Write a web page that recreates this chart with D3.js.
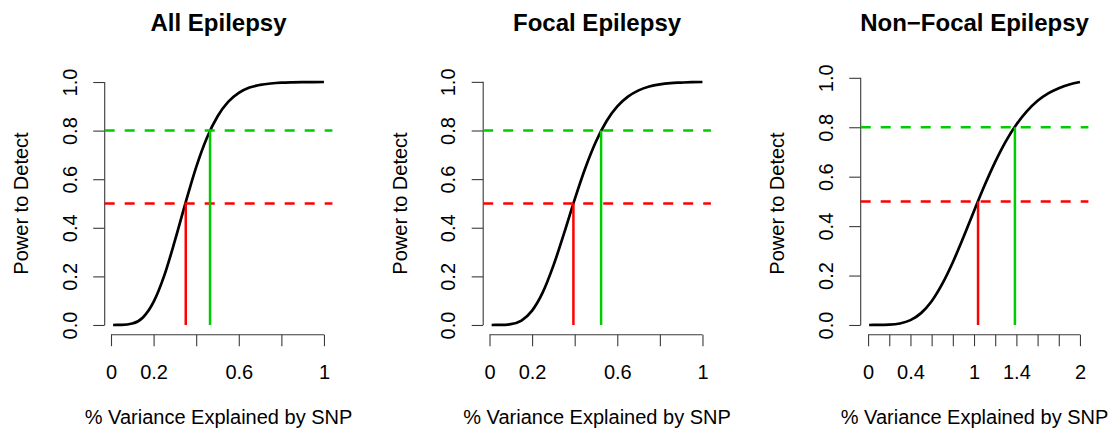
<!DOCTYPE html>
<html>
<head>
<meta charset="utf-8">
<script src="https://cdn.jsdelivr.net/npm/d3@7"></script>
<style>
  body { margin: 0; background: #fff; }
  svg { display: block; font-family: "Liberation Sans", Arial, Helvetica, sans-serif; }
</style>
</head>
<body>
<svg id="chart" width="1109" height="429"></svg>
<script>
// Power curves for detecting a SNP effect, by epilepsy subtype
const titles = ["All Epilepsy", "Focal Epilepsy", "Non\u2212Focal Epilepsy"];

// % variance explained (x) and power to detect (y)
const varianceAll = [0.01, 0.05, 0.10, 0.15, 0.20, 0.25, 0.30, 0.35, 0.40, 0.45, 0.50,
                     0.55, 0.60, 0.65, 0.70, 0.75, 0.80, 0.85, 0.90, 0.95, 1.00];
const powerAll = [0, 0.0003, 0.006, 0.031, 0.095, 0.203, 0.347, 0.503, 0.650, 0.770, 0.858,
                  0.918, 0.955, 0.977, 0.988, 0.994, 0.9975, 0.9989, 0.9995, 0.9998, 1.0];

const varianceFocal = [0.01, 0.05, 0.10, 0.15, 0.20, 0.25, 0.30, 0.35, 0.40, 0.45, 0.50,
                       0.55, 0.60, 0.65, 0.70, 0.75, 0.80, 0.85, 0.90, 0.95, 1.00];
const powerFocal = [0, 0.0002, 0.0034, 0.018, 0.059, 0.134, 0.244, 0.377, 0.517, 0.646, 0.755,
                    0.839, 0.899, 0.939, 0.965, 0.981, 0.990, 0.995, 0.997, 0.9987, 0.9994];

const varianceNonFocal = [0.01, 0.1, 0.2, 0.3, 0.4, 0.5, 0.6, 0.7, 0.8, 0.9, 1.0,
                          1.1, 1.2, 1.3, 1.4, 1.5, 1.6, 1.7, 1.8, 1.9, 2.0];
const powerNonFocal = [0, 0.0001, 0.0011, 0.0059, 0.0195, 0.048, 0.096, 0.166, 0.254, 0.355, 0.461,
                       0.565, 0.660, 0.743, 0.811, 0.865, 0.907, 0.937, 0.958, 0.973, 0.983];

// Variance explained at which power reaches 50% and 80%
const threshold50 = [0.351, 0.394, 1.038];
const threshold80 = [0.465, 0.524, 1.386];
const powerLevels = [0.5, 0.8];

// Axis ticks and their printed labels (empty = unlabeled tick)
const xTicksUnit = [0, 0.2, 0.4, 0.6, 0.8, 1];
const xLabelsUnit = ["0", "0.2", "", "0.6", "", "1"];
const xTicksTwo = [0, 0.2, 0.4, 0.6, 0.8, 1.0, 1.2, 1.4, 1.6, 1.8, 2.0];
const xLabelsTwo = ["0", "", "0.4", "", "", "1", "", "1.4", "", "", "2"];
const yTicks = [0, 0.2, 0.4, 0.6, 0.8, 1.0];
const yLabels = ["0.0", "0.2", "0.4", "0.6", "0.8", "1.0"];

const panels = [
  { title: titles[0], x: varianceAll, y: powerAll, t50: threshold50[0], t80: threshold80[0], xt: xTicksUnit, xl: xLabelsUnit },
  { title: titles[1], x: varianceFocal, y: powerFocal, t50: threshold50[1], t80: threshold80[1], xt: xTicksUnit, xl: xLabelsUnit },
  { title: titles[2], x: varianceNonFocal, y: powerNonFocal, t50: threshold50[2], t80: threshold80[2], xt: xTicksTwo, xl: xLabelsTwo }
];

const svg = d3.select("#chart");
const panelOffsets = [0, 378.5, 756];
const plot = { left: 104.7, top: 72.3, width: 227.7, height: 262.4 };
const RED = "#ff0000", GREEN = "#00cd00", AXIS = "#3a3a3a";
const tickLen = 11.5;

// pad a data extent by 4% on each side
function padded(ext) {
  const r = ext[1] - ext[0];
  return [ext[0] - 0.04 * r, ext[1] + 0.04 * r];
}

panels.forEach((p, i) => {
  const g = svg.append("g").attr("transform", `translate(${panelOffsets[i]},0)`);
  const x = d3.scaleLinear().domain(padded(d3.extent(p.x))).range([plot.left, plot.left + plot.width]);
  const y = d3.scaleLinear().domain(padded(d3.extent(p.y))).range([plot.top + plot.height, plot.top]);
  const bottom = plot.top + plot.height;

  // x axis
  const xAxis = d3.axisBottom(x).tickValues(p.xt).tickSize(tickLen).tickSizeOuter(0)
    .tickFormat((d, k) => p.xl[k]);
  const gx = g.append("g").attr("transform", `translate(0,${bottom})`).call(xAxis);
  gx.select(".domain").remove();
  gx.append("line")
    .attr("x1", x(p.xt[0])).attr("x2", x(p.xt[p.xt.length - 1]))
    .attr("stroke", AXIS).attr("stroke-width", 1.1);
  gx.selectAll(".tick line").attr("stroke", AXIS).attr("stroke-width", 1.1);
  gx.selectAll(".tick text")
    .attr("y", 44).attr("dy", null)
    .attr("font-size", 20).attr("font-family", "Liberation Sans, Arial, sans-serif")
    .attr("fill", "#000");

  // y axis
  const yAxis = d3.axisLeft(y).tickValues(yTicks).tickSize(tickLen).tickSizeOuter(0)
    .tickFormat((d, k) => yLabels[k]);
  const gy = g.append("g").attr("transform", `translate(${plot.left},0)`).call(yAxis);
  gy.select(".domain").remove();
  gy.append("line")
    .attr("y1", y(yTicks[0])).attr("y2", y(yTicks[yTicks.length - 1]))
    .attr("stroke", AXIS).attr("stroke-width", 1.1);
  gy.selectAll(".tick line").attr("stroke", AXIS).attr("stroke-width", 1.1);
  gy.selectAll(".tick text")
    .attr("x", null).attr("dy", null)
    .attr("transform", "translate(-28,0) rotate(-90)")
    .attr("text-anchor", "middle")
    .attr("font-size", 20).attr("font-family", "Liberation Sans, Arial, sans-serif")
    .attr("fill", "#000");

  // power curve
  const line = d3.line()
    .x((d, k) => x(p.x[k]))
    .y((d, k) => y(p.y[k]))
    .curve(d3.curveMonotoneX);
  g.append("path")
    .attr("d", line(p.x))
    .attr("fill", "none")
    .attr("stroke", "#000")
    .attr("stroke-width", 2.7)
    .attr("stroke-linejoin", "round");

  // horizontal reference levels across the plot region
  const levelColors = [RED, GREEN];
  powerLevels.forEach((lv, k) => {
    g.append("line")
      .attr("x1", plot.left).attr("x2", plot.left + plot.width)
      .attr("y1", y(lv)).attr("y2", y(lv))
      .attr("stroke", levelColors[k])
      .attr("stroke-width", 2.5)
      .attr("stroke-dasharray", "10,10");
  });

  // vertical drops at the 50% and 80% thresholds
  [[p.t50, powerLevels[0], RED], [p.t80, powerLevels[1], GREEN]].forEach(([tv, lv, c]) => {
    g.append("line")
      .attr("x1", x(tv)).attr("x2", x(tv))
      .attr("y1", y(0)).attr("y2", y(lv))
      .attr("stroke", c)
      .attr("stroke-width", 2.5);
  });

  // titles and axis labels
  const cx = plot.left + plot.width / 2;
  g.append("text")
    .attr("x", cx).attr("y", 31)
    .attr("text-anchor", "middle")
    .attr("font-size", 24).attr("font-weight", "bold")
    .text(p.title);
  g.append("text")
    .attr("x", cx).attr("y", 424)
    .attr("text-anchor", "middle")
    .attr("font-size", 20)
    .text("% Variance Explained by SNP");
  g.append("text")
    .attr("transform", `translate(28.3,${plot.top + plot.height / 2}) rotate(-90)`)
    .attr("text-anchor", "middle")
    .attr("font-size", 20)
    .text("Power to Detect");
});
</script>
</body>
</html>
